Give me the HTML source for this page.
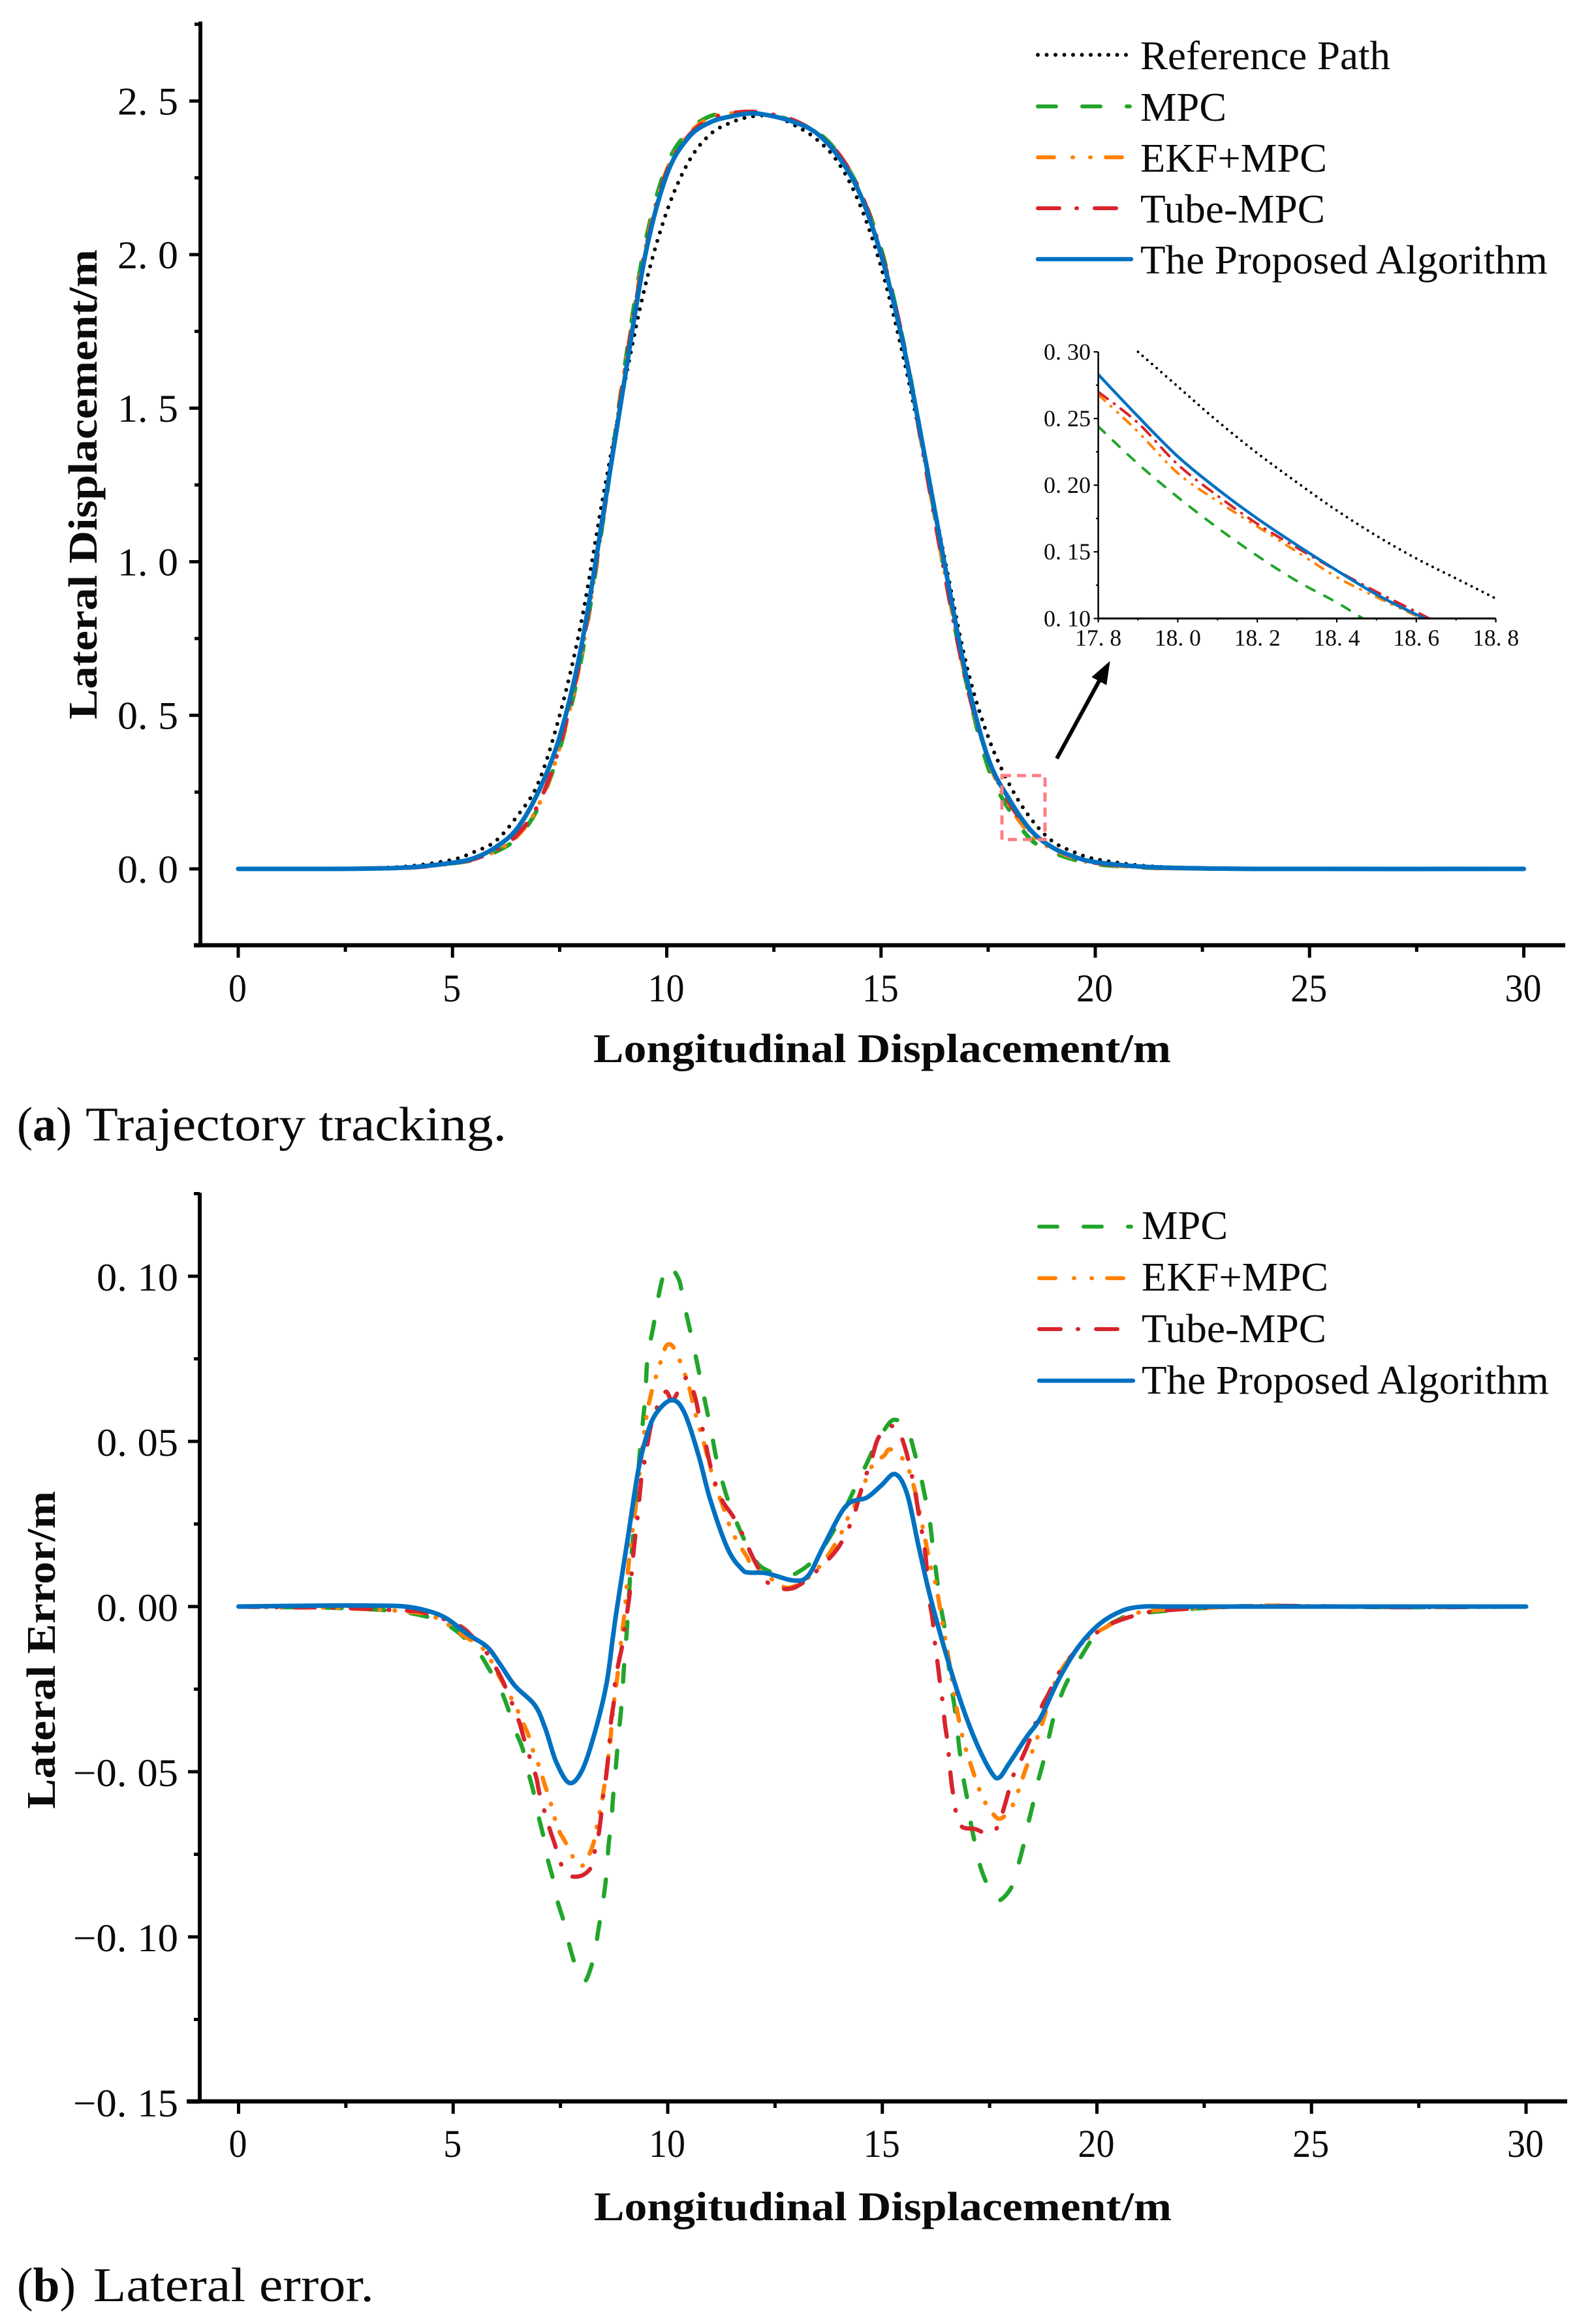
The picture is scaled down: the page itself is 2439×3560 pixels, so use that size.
<!DOCTYPE html>
<html lang="en">
<head>
<meta charset="utf-8">
<title>Trajectory tracking and lateral error</title>
<style>
html,body{margin:0;padding:0;background:#fff;}
svg{display:block;}
text{font-family:"Liberation Serif",serif;fill:#0a0a0a;}
.ttl{font-weight:bold;font-size:62px;}
.leg{font-size:62px;}
.cap{font-size:74px;}
</style>
</head>
<body>
<svg id="fig" xmlns="http://www.w3.org/2000/svg" width="2439" height="3560" viewBox="0 0 2439 3560">
  <rect x="0" y="0" width="2439" height="3560" fill="#ffffff"/>
  <defs>
    <clipPath id="inset-clip"><rect x="1682" y="537" width="612" height="411"/></clipPath>
  </defs>

  <g id="chartA"></g>
  <g id="chartB"></g>
  <g id="inset"></g>

  <text class="ttl" x="909" y="1627" textLength="885" lengthAdjust="spacingAndGlyphs">Longitudinal Displacement/m</text>
  <text class="ttl" transform="translate(148,1102) rotate(-90)" x="0" y="0" textLength="720" lengthAdjust="spacingAndGlyphs">Lateral Displacement/m</text>
  <text class="ttl" x="910" y="3401" textLength="885" lengthAdjust="spacingAndGlyphs">Longitudinal Displacement/m</text>
  <text class="ttl" transform="translate(84,2771) rotate(-90)" x="0" y="0" textLength="487" lengthAdjust="spacingAndGlyphs">Lateral Error/m</text>

  <g>
    <line x1="1590" y1="84" x2="1733" y2="84" stroke="#000" stroke-width="6" stroke-linecap="round" stroke-dasharray="0 13.5"/>
    <text class="leg" x="1747" y="106" textLength="383" lengthAdjust="spacingAndGlyphs">Reference Path</text>
    <line x1="1590" y1="163" x2="1731" y2="163" stroke="#22a52b" stroke-width="6" stroke-linecap="round" stroke-dasharray="28 40"/>
    <text class="leg" x="1747" y="185" textLength="132" lengthAdjust="spacingAndGlyphs">MPC</text>
    <line x1="1590" y1="241" x2="1721" y2="241" stroke="#ff8206" stroke-width="6" stroke-linecap="round" stroke-dasharray="25 28 1 26 1 23"/>
    <text class="leg" x="1747" y="263" textLength="286" lengthAdjust="spacingAndGlyphs">EKF+MPC</text>
    <line x1="1590" y1="319" x2="1713" y2="319" stroke="#d8242c" stroke-width="6" stroke-linecap="round" stroke-dasharray="33 26 1 27"/>
    <text class="leg" x="1747" y="341" textLength="283" lengthAdjust="spacingAndGlyphs">Tube-MPC</text>
    <line x1="1590" y1="397" x2="1733" y2="397" stroke="#0071c1" stroke-width="6.5" stroke-linecap="round"/>
    <text class="leg" x="1747" y="419" textLength="624" lengthAdjust="spacingAndGlyphs">The Proposed Algorithm</text>
  </g>

  <g>
    <line x1="1592" y1="1879" x2="1733" y2="1879" stroke="#22a52b" stroke-width="6" stroke-linecap="round" stroke-dasharray="28 40"/>
    <text class="leg" x="1749" y="1898" textLength="132" lengthAdjust="spacingAndGlyphs">MPC</text>
    <line x1="1592" y1="1958" x2="1723" y2="1958" stroke="#ff8206" stroke-width="6" stroke-linecap="round" stroke-dasharray="25 28 1 26 1 23"/>
    <text class="leg" x="1749" y="1977" textLength="286" lengthAdjust="spacingAndGlyphs">EKF+MPC</text>
    <line x1="1592" y1="2036" x2="1715" y2="2036" stroke="#d8242c" stroke-width="6" stroke-linecap="round" stroke-dasharray="33 26 1 27"/>
    <text class="leg" x="1749" y="2056" textLength="283" lengthAdjust="spacingAndGlyphs">Tube-MPC</text>
    <line x1="1592" y1="2115" x2="1736" y2="2115" stroke="#0071c1" stroke-width="6.5" stroke-linecap="round"/>
    <text class="leg" x="1749" y="2135" textLength="624" lengthAdjust="spacingAndGlyphs">The Proposed Algorithm</text>
  </g>

  <rect x="1535" y="1188" width="66" height="98" fill="none" stroke="#ff7f86" stroke-width="5" stroke-dasharray="14 9"/>
  <g>
    <line x1="1619" y1="1162" x2="1684" y2="1043" stroke="#000" stroke-width="6"/>
    <polygon points="1700.6,1012.6 1695.2,1049.5 1672.4,1037.1" fill="#000"/>
  </g>

  <text class="cap" x="26" y="1747" textLength="84" lengthAdjust="spacingAndGlyphs">(<tspan font-weight="bold">a</tspan>)</text>
  <text class="cap" x="131" y="1747" textLength="645" lengthAdjust="spacingAndGlyphs">Trajectory tracking.</text>
  <text class="cap" x="26" y="3525" textLength="90" lengthAdjust="spacingAndGlyphs">(<tspan font-weight="bold">b</tspan>)</text>
  <text class="cap" x="143" y="3525" textLength="430" lengthAdjust="spacingAndGlyphs">Lateral error.</text>
</svg>

<script>
// ---- Tick labels ----
const xTickValues = [0, 5, 10, 15, 20, 25, 30];
const xTickLabels = ['0', '5', '10', '15', '20', '25', '30'];
const xMinorValues = [2.5, 7.5, 12.5, 17.5, 22.5, 27.5];
const yTickValuesA = [0, 0.5, 1, 1.5, 2, 2.5];
const yTickLabelsA = ['0. 0', '0. 5', '1. 0', '1. 5', '2. 0', '2. 5'];
const yMinorValuesA = [-0.25, 0.25, 0.75, 1.25, 1.75, 2.25, 2.75];
const yTickValuesB = [-0.15, -0.10, -0.05, 0, 0.05, 0.10];
const yTickLabelsB = ['\u22120. 15', '\u22120. 10', '\u22120. 05', '0. 00', '0. 05', '0. 10'];
const yMinorValuesB = [-0.125, -0.075, -0.025, 0.025, 0.075, 0.125];
const insetXTickValues = [17.8, 18.0, 18.2, 18.4, 18.6, 18.8];
const insetXTickLabels = ['17. 8', '18. 0', '18. 2', '18. 4', '18. 6', '18. 8'];
const insetXMinorValues = [17.9, 18.1, 18.3, 18.5, 18.7];
const insetYTickValues = [0.10, 0.15, 0.20, 0.25, 0.30];
const insetYTickLabels = ['0. 10', '0. 15', '0. 20', '0. 25', '0. 30'];
const insetYMinorValues = [0.125, 0.175, 0.225, 0.275];

// ---- Chart (a): trajectory ----
const trajX = [0,2,3,4,5,5.5,6,6.5,7,7.5,8,8.5,9,9.5,10,10.5,11,11.5,12,12.5,13,13.5,14,14.5,15,15.5,16,16.5,17,17.5,18,18.5,19,19.5,20,21,22,24,30];
const trajRef = [0,0,0.002,0.009,0.03,0.055,0.09,0.17,0.28,0.5,0.8,1.2,1.57,1.9,2.14,2.3,2.39,2.43,2.45,2.45,2.42,2.375,2.3,2.165,1.96,1.68,1.35,1,0.66,0.43,0.274,0.163,0.09,0.055,0.032,0.012,0.004,0.0005,0];
const trajMpc = [0,0,0.001,0.004,0.018,0.03,0.055,0.1,0.2,0.39,0.68,1.12,1.62,2.04,2.29,2.4,2.45,2.46,2.46,2.455,2.43,2.4,2.33,2.21,2.02,1.73,1.36,0.95,0.6,0.33,0.19,0.095,0.055,0.03,0.015,0.005,0.002,0,0];
const trajEkf = [0,0,0.001,0.004,0.018,0.032,0.058,0.105,0.205,0.395,0.69,1.125,1.61,2.02,2.275,2.39,2.445,2.46,2.46,2.45,2.43,2.395,2.325,2.205,2.005,1.725,1.345,0.955,0.605,0.355,0.205,0.112,0.065,0.036,0.018,0.006,0.002,0,0];
const trajTube = [0,0,0.001,0.004,0.018,0.032,0.06,0.11,0.21,0.4,0.7,1.13,1.6,2.01,2.27,2.385,2.44,2.46,2.465,2.455,2.435,2.395,2.33,2.21,2.01,1.73,1.34,0.95,0.6,0.36,0.214,0.122,0.07,0.038,0.02,0.007,0.002,0,0];
const trajProposed = [0,0,0.001,0.005,0.02,0.035,0.07,0.13,0.25,0.43,0.72,1.14,1.58,2,2.26,2.38,2.43,2.45,2.46,2.45,2.43,2.395,2.32,2.2,2,1.72,1.36,0.98,0.62,0.36,0.225,0.125,0.07,0.04,0.022,0.008,0.003,0,0];

// ---- Inset ----
const insetX = [17.8,17.9,18.0,18.1,18.2,18.3,18.4,18.5,18.6,18.7,18.8];
const insetRef = [null,0.30,0.274,0.248,0.224,0.202,0.181,0.162,0.145,0.13,0.115];
const insetMpc = [0.244,0.216,0.191,0.168,0.147,0.128,0.112,0.094,0.08,0.07,0.06];
const insetEkf = [0.268,0.24,0.209,0.188,0.169,0.15,0.131,0.116,0.102,0.088,0.075];
const insetTube = [0.27,0.2466,0.2155,0.192,0.171,0.153,0.136,0.12,0.105,0.09,0.08];
const insetProposed = [0.283,0.2515,0.2215,0.197,0.175,0.155,0.136,0.118,0.103,0.09,0.08];

// ---- Chart (b): lateral error ----
const errMpcX = [0,1,2,3,3.5,4,4.47,4.92,5.23,5.61,5.84,6.09,6.26,6.44,6.62,6.75,6.87,6.98,7.1,7.2,7.33,7.43,7.58,7.71,7.84,8.01,8.12,8.3,8.37,8.46,8.53,8.59,8.62,8.69,8.72,8.77,8.81,8.86,8.91,8.95,8.98,9.06,9.12,9.19,9.26,9.36,9.47,9.53,9.66,9.82,9.95,10.05,10.26,10.36,10.49,10.59,10.71,10.8,10.92,11.02,11.12,11.23,11.4,11.67,11.94,12.19,12.73,13.1,13.48,13.95,14.42,14.63,14.83,15.17,15.38,15.58,15.75,15.88,15.99,16.09,16.16,16.22,16.29,16.35,16.46,16.56,16.63,16.72,16.76,16.83,16.9,17,17.07,17.2,17.3,17.48,17.7,18,18.15,18.3,18.39,18.53,18.63,18.77,18.97,19.1,19.24,19.44,19.62,19.92,20.2,20.46,20.94,22.55,24,27,30];
const errMpcY = [0,-0.0002,-0.0003,-0.0008,-0.0012,-0.002,-0.0034,-0.006,-0.0091,-0.0142,-0.019,-0.0247,-0.0302,-0.0373,-0.0431,-0.0502,-0.056,-0.063,-0.0694,-0.0763,-0.0826,-0.0891,-0.0955,-0.1026,-0.1083,-0.113,-0.1125,-0.1051,-0.099,-0.0919,-0.0858,-0.0787,-0.0723,-0.065,-0.0587,-0.0518,-0.0455,-0.0381,-0.0318,-0.0247,-0.0186,-0.0049,0.0085,0.021,0.0314,0.0482,0.0625,0.0755,0.0844,0.0962,0.1022,0.103,0.099,0.0929,0.0854,0.0796,0.0721,0.0664,0.0589,0.0526,0.0457,0.0399,0.0324,0.0235,0.0164,0.0119,0.0093,0.0109,0.0154,0.0249,0.0375,0.0431,0.0486,0.0557,0.0563,0.0541,0.0466,0.0405,0.0336,0.0275,0.02,0.0138,0.0067,0.0008,-0.0073,-0.0194,-0.0259,-0.0336,-0.0391,-0.0466,-0.0528,-0.0597,-0.0662,-0.0739,-0.0794,-0.085,-0.089,-0.0852,-0.079,-0.0717,-0.0662,-0.0587,-0.0528,-0.046,-0.0346,-0.0294,-0.0245,-0.0194,-0.0154,-0.0093,-0.0063,-0.0043,-0.0022,-0.0004,0.0002,-0.0002,0];

const errEkfX = [0,1,2,3,3.5,4,4.32,4.72,5.2,5.71,6.09,6.44,6.62,6.75,6.87,7.02,7.13,7.25,7.34,7.48,7.58,7.72,7.86,8.0,8.12,8.27,8.34,8.42,8.5,8.65,8.69,8.77,8.83,8.92,9,9.09,9.26,9.47,9.55,9.64,9.77,9.87,9.97,10.1,10.26,10.49,10.6,10.71,10.85,10.92,11.12,11.26,11.47,11.67,11.84,12,12.6,12.8,13.13,13.48,13.75,13.95,14.09,14.22,14.39,14.56,14.7,14.83,15.04,15.17,15.41,15.61,15.78,15.99,16.14,16.26,16.43,16.53,16.7,16.87,17.03,17.24,17.37,17.58,17.75,17.99,18.16,18.33,18.6,18.77,19.04,19.41,19.71,20.2,20.74,21.28,22.55,24,27,30];
const errEkfY = [0,-0.0003,-0.0003,-0.0008,-0.0011,-0.0016,-0.0022,-0.0041,-0.0085,-0.013,-0.0215,-0.0298,-0.035,-0.0388,-0.0439,-0.049,-0.0538,-0.0583,-0.063,-0.0682,-0.0705,-0.0739,-0.0775,-0.0785,-0.0765,-0.0716,-0.067,-0.0619,-0.0563,-0.0419,-0.0362,-0.0263,-0.0209,-0.0095,-0.001,0.013,0.0314,0.0543,0.0607,0.0658,0.0715,0.0755,0.079,0.079,0.0751,0.0668,0.0607,0.0553,0.0492,0.0457,0.036,0.0314,0.0235,0.0187,0.0152,0.0121,0.0068,0.0057,0.0073,0.0113,0.0158,0.02,0.0235,0.0275,0.0315,0.0366,0.0411,0.0437,0.0457,0.0476,0.0457,0.0416,0.034,0.0209,0.0113,0.0058,-0.0073,-0.0144,-0.0285,-0.0395,-0.0466,-0.0547,-0.0587,-0.0628,-0.0642,-0.0613,-0.0561,-0.0496,-0.0401,-0.0336,-0.0224,-0.0148,-0.0103,-0.0063,-0.0028,-0.0012,-0.0004,0.0003,-0.0002,0];

const errTubeX = [0,1,2,3,3.5,4,4.32,5.12,5.48,5.68,5.87,6.11,6.24,6.39,6.55,6.65,6.75,6.93,7,7.1,7.25,7.36,7.46,7.56,7.66,7.86,8.06,8.22,8.31,8.39,8.46,8.5,8.56,8.62,8.65,8.68,8.75,8.77,8.83,8.95,9,9.06,9.13,9.21,9.3,9.39,9.47,9.6,9.74,9.95,10.1,10.27,10.44,10.55,10.65,10.73,10.84,10.93,11.03,11.16,11.3,11.53,11.8,11.94,12.19,12.42,12.8,13.1,13.48,13.71,13.98,14.22,14.36,14.5,14.63,14.76,14.89,15.07,15.2,15.38,15.55,15.64,15.73,15.82,15.88,15.96,16.02,16.09,16.17,16.2,16.26,16.32,16.35,16.41,16.46,16.52,16.56,16.61,16.67,16.74,16.87,17.17,17.47,17.68,17.85,18.05,18.25,18.43,18.69,18.87,19.14,19.44,19.71,20.2,20.46,21.08,21.55,22.55,24,27,30];
const errTubeY = [0,-0.0002,-0.0003,-0.0007,-0.001,-0.0013,-0.0018,-0.0056,-0.0095,-0.0122,-0.0158,-0.0213,-0.0251,-0.0298,-0.0354,-0.04,-0.0443,-0.0514,-0.056,-0.0607,-0.0674,-0.0716,-0.0759,-0.0794,-0.0812,-0.0818,-0.081,-0.0787,-0.0735,-0.069,-0.0619,-0.0567,-0.0518,-0.0447,-0.04,-0.0346,-0.0283,-0.0231,-0.0186,-0.0111,-0.0057,-0.0012,0.0059,0.0174,0.0275,0.0393,0.0447,0.0543,0.06,0.065,0.0624,0.0658,0.0694,0.0668,0.0628,0.0579,0.0522,0.0464,0.0407,0.0354,0.0314,0.0271,0.0204,0.016,0.0099,0.0063,0.0053,0.0068,0.0109,0.0138,0.018,0.0239,0.0285,0.035,0.0401,0.0451,0.0506,0.0538,0.0547,0.0532,0.0472,0.0421,0.0372,0.0304,0.0255,0.02,0.0138,0.0028,-0.0038,-0.0083,-0.0144,-0.0204,-0.0239,-0.0294,-0.0356,-0.0411,-0.0466,-0.0532,-0.0583,-0.0638,-0.0668,-0.0674,-0.0688,-0.0668,-0.0603,-0.0512,-0.046,-0.0405,-0.031,-0.0265,-0.0194,-0.0144,-0.0103,-0.0063,-0.0045,-0.002,-0.0012,-0.0004,0.0002,-0.0002,0];

const errProposedX = [0,2,3,3.8,4.32,4.82,5.33,5.79,6.09,6.44,6.9,7.15,7.4,7.71,8.01,8.31,8.57,8.72,8.81,9.09,9.3,9.47,9.7,10.08,10.38,10.72,10.99,11.4,11.73,11.9,12.3,12.93,13.27,13.62,14.15,14.64,14.97,15.3,15.58,15.85,16.12,16.53,16.87,17.2,17.54,17.72,17.95,18.36,18.69,19.1,19.57,20.06,20.6,21.08,21.6,22.5,24,27,30];
const errProposedY = [0,0.0003,0.0003,0.0001,-0.001,-0.0034,-0.0083,-0.0122,-0.0174,-0.024,-0.0298,-0.037,-0.047,-0.0534,-0.0494,-0.0377,-0.0236,-0.0095,-0.001,0.0225,0.0403,0.05,0.0579,0.0625,0.0589,0.0457,0.0324,0.0174,0.0113,0.0103,0.0101,0.0079,0.0093,0.018,0.0304,0.033,0.0366,0.0401,0.034,0.018,0.0028,-0.0164,-0.0304,-0.0415,-0.0502,-0.0518,-0.0476,-0.0395,-0.0336,-0.0223,-0.0122,-0.0053,-0.0012,0,0,0,0,0,0];

// ---- Axis functions ----
const xAxisA = v => 365 + 65.65 * v;
const yAxisA = v => 1331 - 470.5 * v;
const xAxisB = v => 365.5 + 65.75 * v;
const yAxisB = v => 2461 - 5060 * v;
const xAxisI = v => 1682.6 + (v - 17.8) * 609;
const yAxisI = v => 947.4 - (v - 0.10) * 2042;

const NS = 'http://www.w3.org/2000/svg';
function mk(tag, parent, attrs) {
  const e = document.createElementNS(NS, tag);
  for (const k in attrs) e.setAttribute(k, attrs[k]);
  parent.appendChild(e);
  return e;
}
function smoothPath(xs, ys, fx, fy) {
  const pts = [];
  xs.forEach((x, i) => { if (ys[i] !== null) pts.push([fx(x), fy(ys[i])]); });
  let d = 'M' + pts[0][0].toFixed(1) + ' ' + pts[0][1].toFixed(1);
  for (let i = 0; i < pts.length - 1; i++) {
    const p0 = pts[Math.max(i - 1, 0)], p1 = pts[i], p2 = pts[i + 1], p3 = pts[Math.min(i + 2, pts.length - 1)];
    const c1x = Math.min(p1[0] + (p2[0] - p0[0]) / 6, p2[0]), c1y = p1[1] + (p2[1] - p0[1]) / 6;
    const c2x = Math.max(p2[0] - (p3[0] - p1[0]) / 6, p1[0]), c2y = p2[1] - (p3[1] - p1[1]) / 6;
    d += 'C' + c1x.toFixed(1) + ' ' + c1y.toFixed(1) + ' ' + c2x.toFixed(1) + ' ' + c2y.toFixed(1) + ' ' + p2[0].toFixed(1) + ' ' + p2[1].toFixed(1);
  }
  return d;
}
function drawSeries(parent, name, xs, ys, fx, fy, color, width, dash) {
  const attrs = { d: smoothPath(xs, ys, fx, fy), fill: 'none', stroke: color, 'stroke-width': width, 'stroke-linecap': 'round', 'stroke-linejoin': 'round' };
  if (dash) attrs['stroke-dasharray'] = dash;
  const p = mk('path', parent, attrs);
  
  
  return p;
}
function drawAxes(g, o) {
  const yAxis = mk('line', g, { x1: o.left, y1: o.top, x2: o.left, y2: o.bottom, stroke: '#000', 'stroke-width': o.axisW });
  
  
  const xAxis = mk('line', g, { x1: o.xStart, y1: o.bottom, x2: o.right, y2: o.bottom, stroke: '#000', 'stroke-width': o.axisW + 0.5 });
  
  
  o.xTicks.forEach((v, i) => {
    const t = mk('line', g, { x1: o.fx(v), y1: o.bottom, x2: o.fx(v), y2: o.bottom + o.majorX, stroke: '#000', 'stroke-width': o.tickW });
    
    
    const l = mk('text', g, { x: o.fx(v) - o.xLabelShift, y: o.xLabelY, 'text-anchor': 'middle', 'font-size': o.font, textLength: o.xLabelLen(o.xLabels[i]), lengthAdjust: 'spacingAndGlyphs' });
    l.textContent = o.xLabels[i];
    
    
  });
  o.xMinor.forEach(v => {
    const t = mk('line', g, { x1: o.fx(v), y1: o.bottom, x2: o.fx(v), y2: o.bottom + o.minorX, stroke: '#000', 'stroke-width': o.tickW });
    
    
  });
  o.yTicks.forEach((v, i) => {
    const t = mk('line', g, { x1: o.left, y1: o.fy(v), x2: o.left - o.majorY, y2: o.fy(v), stroke: '#000', 'stroke-width': o.tickW });
    
    
    const l = mk('text', g, { x: o.yLabelX, y: o.fy(v) + o.font * 0.33 + o.yLabelDy, 'text-anchor': 'end', 'font-size': o.font, textLength: o.yLabelLen(o.yLabels[i]), lengthAdjust: 'spacingAndGlyphs' });
    l.textContent = o.yLabels[i];
    
    
  });
  o.yMinor.forEach(v => {
    const t = mk('line', g, { x1: o.left, y1: o.fy(v), x2: o.left - o.minorY, y2: o.fy(v), stroke: '#000', 'stroke-width': o.tickW });
    
    
  });
}

const GREEN = '#22a52b', ORANGE = '#ff8206', RED = '#d8242c', BLUE = '#0071c1';

// Chart (a)
const gA = document.getElementById('chartA');
drawAxes(gA, { left: 307, right: 2398, top: 33, bottom: 1448, xStart: 297, axisW: 6, tickW: 5, majorX: 19, minorX: 10, majorY: 17, minorY: 9,
  fx: xAxisA, fy: yAxisA, xTicks: xTickValues, xLabels: xTickLabels, xMinor: xMinorValues, yTicks: yTickValuesA, yLabels: yTickLabelsA, yMinor: yMinorValuesA,
  font: 60, xLabelY: 1534, xLabelShift: 1, yLabelX: 273, yLabelDy: 1, xLabelLen: s => s.length * 28, yLabelLen: s => 93 });
drawSeries(gA, 'reference-path-line', trajX, trajRef, xAxisA, yAxisA, '#000', 6, '0 13.5');
drawSeries(gA, 'mpc-line', trajX, trajMpc, xAxisA, yAxisA, GREEN, 6.5, '26 40');
drawSeries(gA, 'ekf-mpc-line', trajX, trajEkf, xAxisA, yAxisA, ORANGE, 6.5, '20 22 1 22 1 21');
drawSeries(gA, 'tube-mpc-line', trajX, trajTube, xAxisA, yAxisA, RED, 6.5, '31 27 1 27');
drawSeries(gA, 'proposed-algorithm-line', trajX, trajProposed, xAxisA, yAxisA, BLUE, 7);

// Chart (b)
const gB = document.getElementById('chartB');
drawAxes(gB, { left: 306, right: 2401, top: 1827, bottom: 3219, xStart: 286, axisW: 6, tickW: 5, majorX: 19, minorX: 10, majorY: 18, minorY: 9,
  fx: xAxisB, fy: yAxisB, xTicks: xTickValues, xLabels: xTickLabels, xMinor: xMinorValues, yTicks: yTickValuesB, yLabels: yTickLabelsB, yMinor: yMinorValuesB,
  font: 60, xLabelY: 3304, xLabelShift: 1, yLabelX: 273, yLabelDy: 2, xLabelLen: s => s.length * 28, yLabelLen: s => s.length > 5 ? 161 : 125 });
drawSeries(gB, 'mpc-error-line', errMpcX, errMpcY, xAxisB, yAxisB, GREEN, 6.5, '26 40');
drawSeries(gB, 'ekf-mpc-error-line', errEkfX, errEkfY, xAxisB, yAxisB, ORANGE, 6.5, '20 22 1 22 1 21');
drawSeries(gB, 'tube-mpc-error-line', errTubeX, errTubeY, xAxisB, yAxisB, RED, 6.5, '31 27 1 27');
drawSeries(gB, 'proposed-algorithm-error-line', errProposedX, errProposedY, xAxisB, yAxisB, BLUE, 7);

// Inset
const gI = document.getElementById('inset');
const clipG = mk('g', gI, { 'clip-path': 'url(#inset-clip)' });


drawSeries(clipG, 'inset-reference-line', insetX, insetRef, xAxisI, yAxisI, '#000', 4, '0 9.5');
drawSeries(clipG, 'inset-mpc-line', insetX, insetMpc, xAxisI, yAxisI, GREEN, 4, '14 17');
drawSeries(clipG, 'inset-ekf-mpc-line', insetX, insetEkf, xAxisI, yAxisI, ORANGE, 4, '14 12 1 13 1 12');
drawSeries(clipG, 'inset-tube-mpc-line', insetX, insetTube, xAxisI, yAxisI, RED, 4, '18 12 1 12');
drawSeries(clipG, 'inset-proposed-algorithm-line', insetX, insetProposed, xAxisI, yAxisI, BLUE, 4.5);
drawAxes(gI, { left: 1682.6, right: 2291.6, top: 539, bottom: 947.4, xStart: 1682.6, axisW: 2.5, tickW: 2.2, majorX: 6, minorX: 3, majorY: 7, minorY: 3.5,
  fx: xAxisI, fy: yAxisI, xTicks: insetXTickValues, xLabels: insetXTickLabels, xMinor: insetXMinorValues, yTicks: insetYTickValues, yLabels: insetYTickLabels, yMinor: insetYMinorValues,
  font: 36, xLabelY: 989, xLabelShift: 0, yLabelX: 1671, yLabelDy: 0, xLabelLen: s => 71, yLabelLen: s => 72 });
</script>
</body>
</html>
